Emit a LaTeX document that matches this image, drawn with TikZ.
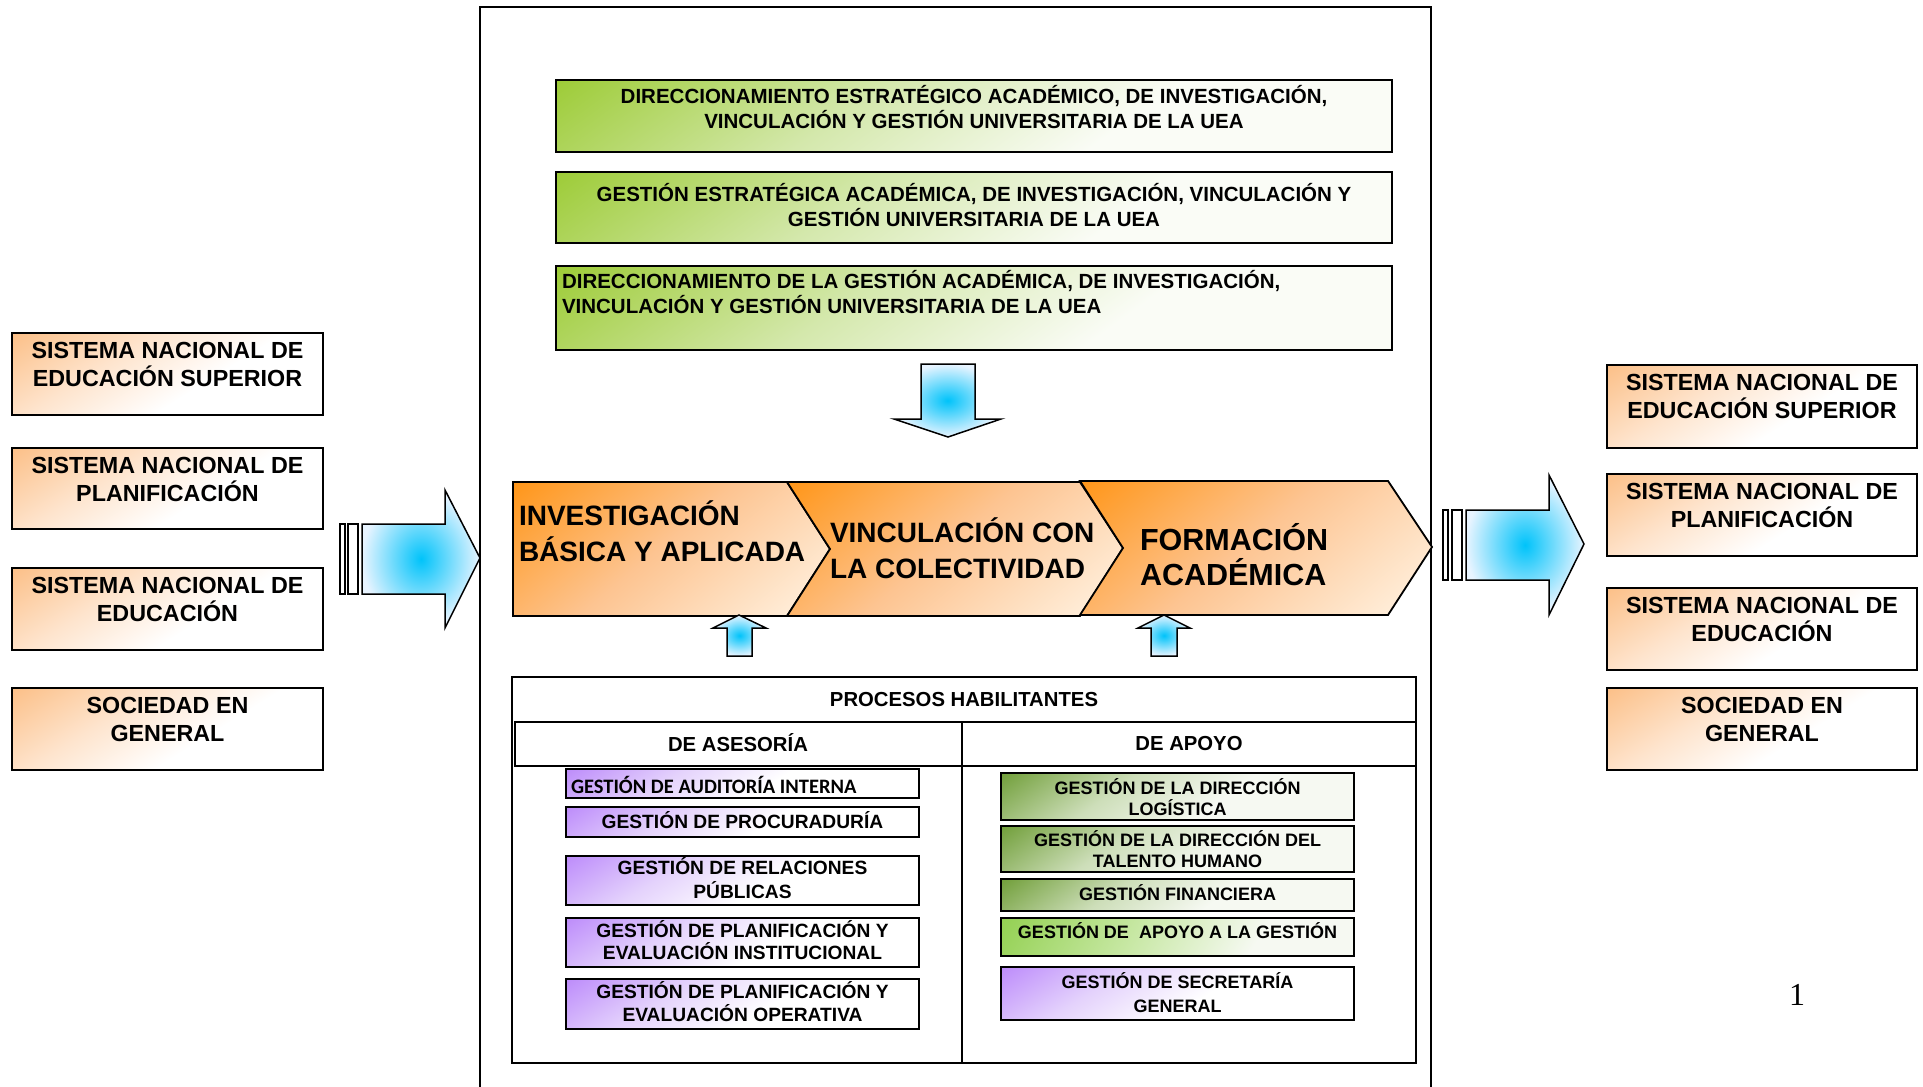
\documentclass[tikz,border=0pt]{standalone}
\usepackage{fontspec}
\setmainfont{Liberation Sans}
\newfontfamily\calibfont{Carlito}
\newfontfamily\serffont{Liberation Serif}
\definecolor{orT}{RGB}{251,186,125}
\definecolor{orM}{RGB}{254,228,205}
\definecolor{chT}{RGB}{255,150,25}
\definecolor{chM}{RGB}{253,196,145}
\definecolor{chB}{RGB}{255,238,218}
\definecolor{grT}{RGB}{150,200,40}
\definecolor{grM}{RGB}{212,232,172}
\definecolor{grB}{RGB}{250,252,246}
\definecolor{gaT}{RGB}{100,150,40}
\definecolor{gaM}{RGB}{205,222,185}
\definecolor{gaB}{RGB}{246,249,242}
\definecolor{gbT}{RGB}{146,208,80}
\definecolor{gbM}{RGB}{200,232,165}
\definecolor{puT}{RGB}{182,128,250}
\definecolor{puM}{RGB}{228,210,252}
\definecolor{blI}{RGB}{0,195,250}
\definecolor{blO}{RGB}{232,244,255}
\pgfdeclareverticalshading{orsh}{100bp}{color(0bp)=(white); color(42bp)=(white); color(62bp)=(orM); color(88bp)=(orT); color(100bp)=(orT)}
\pgfdeclareverticalshading{chsh}{100bp}{color(0bp)=(chB); color(20bp)=(chB); color(52bp)=(chM); color(85bp)=(chT); color(100bp)=(chT)}
\pgfdeclareverticalshading{grsh}{100bp}{color(0bp)=(grB); color(38bp)=(grB); color(60bp)=(grM); color(88bp)=(grT); color(100bp)=(grT)}
\pgfdeclareverticalshading{push}{100bp}{color(0bp)=(white); color(45bp)=(white); color(64bp)=(puM); color(88bp)=(puT); color(100bp)=(puT)}
\pgfdeclareverticalshading{gash}{100bp}{color(0bp)=(gaB); color(42bp)=(gaB); color(62bp)=(gaM); color(88bp)=(gaT); color(100bp)=(gaT)}
\pgfdeclareverticalshading{gbsh}{100bp}{color(0bp)=(gaB); color(35bp)=(gaB); color(58bp)=(gbM); color(85bp)=(gbT); color(100bp)=(gbT)}
\begin{document}
\begin{tikzpicture}[x=1pt,y=-1pt,
  bx/.style={draw=black, line width=1.8pt, inner sep=0pt, outer sep=0pt, anchor=north west},
  obx/.style={bx, shade, shading=orsh, shading angle=32},
  gbx/.style={bx, shade, shading=grsh, shading angle=36},
  pbx/.style={bx, shade, shading=push, shading angle=32},
  abx/.style={bx, shade, shading=gash, shading angle=36},
  a4bx/.style={bx, shade, shading=gbsh, shading angle=60},
  wbx/.style={bx, fill=white},
  chev/.style={draw=black, line width=1.8pt, line join=miter, shade, shading=chsh, shading angle=40},
  barr/.style={draw=black, line width=1.5pt, line join=miter, inner color=blI, outer color=blO},
  barbox/.style={draw=black, line width=1.5pt, fill=white},
  frm/.style={draw=black, line width=2pt},
  txt/.style={anchor=base, inner sep=0pt, outer sep=0pt, align=center},
  txl/.style={anchor=base west, inner sep=0pt, outer sep=0pt, align=left},
  sysf/.style={font=\fontsize{23.3}{28}\selectfont\bfseries},
  topf/.style={font=\fontsize{20.5}{25}\selectfont\bfseries},
  chf/.style={font=\fontsize{28}{36}\selectfont\bfseries},
  hdf/.style={font=\fontsize{20.3}{24}\selectfont\bfseries},
  pf/.style={font=\fontsize{19.2}{23}\selectfont\bfseries},
  af/.style={font=\fontsize{18}{21}\selectfont\bfseries}]
\useasboundingbox (0,0) rectangle (1923,1087);
\fill[white] (0,0) rectangle (1923,1087);

% main frame
\draw[frm] (480,1087) -- (480,7) -- (1431,7) -- (1431,1087);

% left boxes (text anchor = baseline of last line)
\node[obx, minimum width=311, minimum height=82] (L1) at (12,333) {};
\node[txt, sysf] (L1t) at (167.5,386) {SISTEMA NACIONAL DE\\EDUCACIÓN SUPERIOR};
\node[obx, minimum width=311, minimum height=81] (L2) at (12,448) {};
\node[txt, sysf] (L2t) at (167.5,501) {SISTEMA NACIONAL DE\\PLANIFICACIÓN};
\node[obx, minimum width=311, minimum height=82] (L3) at (12,568) {};
\node[txt, sysf] (L3t) at (167.5,621) {SISTEMA NACIONAL DE\\EDUCACIÓN};
\node[obx, minimum width=311, minimum height=82] (L4) at (12,688) {};
\node[txt, sysf] (L4t) at (167.5,741) {SOCIEDAD EN\\GENERAL};

% right boxes
\node[obx, minimum width=310, minimum height=83] (R1) at (1607,365) {};
\node[txt, sysf] (R1t) at (1762,418) {SISTEMA NACIONAL DE\\EDUCACIÓN SUPERIOR};
\node[obx, minimum width=310, minimum height=82] (R2) at (1607,474) {};
\node[txt, sysf] (R2t) at (1762,527) {SISTEMA NACIONAL DE\\PLANIFICACIÓN};
\node[obx, minimum width=310, minimum height=82] (R3) at (1607,588) {};
\node[txt, sysf] (R3t) at (1762,641) {SISTEMA NACIONAL DE\\EDUCACIÓN};
\node[obx, minimum width=310, minimum height=82] (R4) at (1607,688) {};
\node[txt, sysf] (R4t) at (1762,741) {SOCIEDAD EN\\GENERAL};

% big block arrows
\draw[barbox] (340,524) rectangle (345,594);
\draw[barbox] (348,524) rectangle (358,594);
\draw[barr] (362,524) -- (445,524) -- (445,490) -- (480,558) -- (445,628) -- (445,594) -- (362,594) -- cycle;
\draw[barbox] (1443,510) rectangle (1448,580);
\draw[barbox] (1452,510) rectangle (1462,580);
\draw[barr] (1466,510) -- (1549,510) -- (1549,475) -- (1584,544) -- (1549,615) -- (1549,580) -- (1466,580) -- cycle;

% top green boxes
\node[gbx, minimum width=836, minimum height=72] (G1) at (556,80) {};
\node[txt, topf] (G1t) at (974,128) {DIRECCIONAMIENTO ESTRATÉGICO ACADÉMICO, DE INVESTIGACIÓN,\\VINCULACIÓN Y GESTIÓN UNIVERSITARIA DE LA UEA};
\node[gbx, minimum width=836, minimum height=71] (G2) at (556,172) {};
\node[txt, topf] (G2t) at (974,226) {GESTIÓN ESTRATÉGICA ACADÉMICA, DE INVESTIGACIÓN, VINCULACIÓN Y\\GESTIÓN UNIVERSITARIA DE LA UEA};
\node[gbx, minimum width=836, minimum height=84] (G3) at (556,266) {};
\node[txl, topf] (G3t) at (562,313) {DIRECCIONAMIENTO DE LA GESTIÓN ACADÉMICA, DE INVESTIGACIÓN,\\VINCULACIÓN Y GESTIÓN UNIVERSITARIA DE LA UEA};

% down arrow
\draw[barr] (921,364) -- (975,364) -- (975,419) -- (1001,419) -- (948,437) -- (894,419) -- (921,419) -- cycle;

% chevrons
\draw[chev] (513,482) -- (787,482) -- (830,549) -- (787,616) -- (513,616) -- cycle;
\draw[chev] (787,482) -- (1080,482) -- (1123,548) -- (1080,616) -- (787,616) -- (830,549) -- cycle;
\draw[chev] (1080,481) -- (1388,481) -- (1432,547) -- (1388,615) -- (1080,615) -- (1123,548) -- cycle;
\node[txl, chf] (C1t) at (519,561) {INVESTIGACIÓN\\BÁSICA Y APLICADA};
\node[txl, chf] (C2t) at (830,578) {VINCULACIÓN CON\\LA COLECTIVIDAD};
\node[txl, font=\fontsize{30.5}{35}\selectfont\bfseries] (C3t) at (1140,585) {FORMACIÓN\\ACADÉMICA};

% small up arrows
\draw[barr] (739,615) -- (766,628) -- (752,628) -- (752,656) -- (727,656) -- (727,628) -- (713,628) -- cycle;
\draw[barr] (1164,615) -- (1190,628) -- (1177,628) -- (1177,656) -- (1151,656) -- (1151,628) -- (1138,628) -- cycle;

% panel
\node[wbx, minimum width=904, minimum height=386] (P) at (512,677) {};
\node[wbx, minimum width=447, minimum height=44] (HA) at (515,722) {};
\node[wbx, minimum width=454, minimum height=44] (HB) at (962,722) {};
\draw[frm, line width=1.8pt] (HA.south east) -- (962,1063);
\node[txt, hdf] (PHt) at (964,706) {PROCESOS HABILITANTES};
\node[txt, hdf] (HAt) at (738,751) {DE ASESORÍA};
\node[txt, hdf] (HBt) at (1189,750) {DE APOYO};

% asesoria boxes
\node[pbx, minimum width=353, minimum height=29] (P1) at (566,769) {};
\node[txl, font=\fontsize{20.5}{24}\calibfont\bfseries] (P1t) at (571,793) {GESTIÓN DE AUDITORÍA INTERNA};
\node[pbx, minimum width=353, minimum height=30] (P2) at (566,807) {};
\node[txt, pf] (P2t) at (742.5,828) {GESTIÓN DE PROCURADURÍA};
\node[pbx, minimum width=353, minimum height=49] (P3) at (566,856) {};
\node[txt, font=\fontsize{19.2}{24}\selectfont\bfseries] (P3t) at (742.5,898) {GESTIÓN DE RELACIONES\\PÚBLICAS};
\node[pbx, minimum width=353, minimum height=49] (P4) at (566,918) {};
\node[txt, font=\fontsize{19.2}{22}\selectfont\bfseries] (P4t) at (742.5,959) {GESTIÓN DE PLANIFICACIÓN Y\\EVALUACIÓN INSTITUCIONAL};
\node[pbx, minimum width=353, minimum height=50] (P5) at (566,979) {};
\node[txt, pf] (P5t) at (742.5,1021) {GESTIÓN DE PLANIFICACIÓN Y\\EVALUACIÓN OPERATIVA};

% apoyo boxes
\node[abx, minimum width=353, minimum height=47] (A1) at (1001,773) {};
\node[txt, af] (A1t) at (1177.5,815) {GESTIÓN DE LA DIRECCIÓN\\LOGÍSTICA};
\node[abx, minimum width=353, minimum height=46] (A2) at (1001,826) {};
\node[txt, af] (A2t) at (1177.5,867) {GESTIÓN DE LA DIRECCIÓN DEL\\TALENTO HUMANO};
\node[abx, minimum width=353, minimum height=32] (A3) at (1001,879) {};
\node[txt, af] (A3t) at (1177.5,900) {GESTIÓN FINANCIERA};
\node[a4bx, minimum width=353, minimum height=38] (A4) at (1001,918) {};
\node[txt, af] (A4t) at (1177.5,938) {GESTIÓN DE\ \ APOYO A LA GESTIÓN};
\node[pbx, minimum width=353, minimum height=53] (A5) at (1001,967) {};
\node[txt, font=\fontsize{18}{24}\selectfont\bfseries] (A5t) at (1177.5,1012) {GESTIÓN DE SECRETARÍA\\GENERAL};

% page number
\node[txt, font=\fontsize{32}{36}\serffont] (pg) at (1797,1005) {1};
\end{tikzpicture}
\end{document}
